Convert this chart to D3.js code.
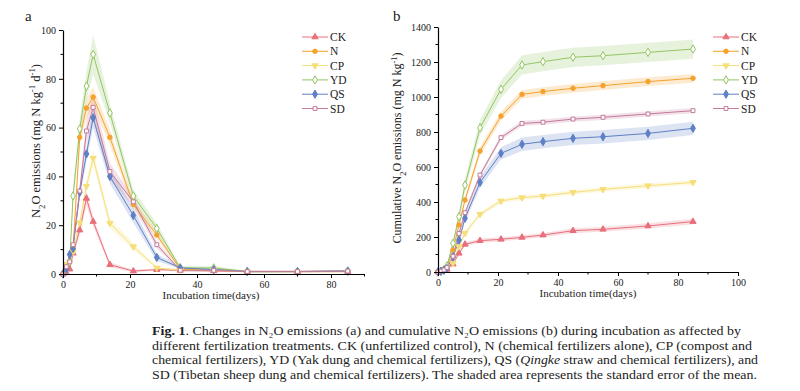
<!DOCTYPE html>
<html><head><meta charset="utf-8">
<script src="https://cdn.jsdelivr.net/npm/d3@7"></script>
<style>
body{margin:0;background:#fff;}
svg{display:block;font-family:"Liberation Serif","Times New Roman",serif;}
</style></head>
<body><svg id="c" width="800" height="391"></svg>
<script>
const days = [0, 1, 2, 3, 5, 7, 9, 14, 21, 28, 35, 45, 55, 70, 85];
const seriesNames = ["CK", "N", "CP", "YD", "QS", "SD"];
const seriesColors = ["#e8707c", "#f4a22c", "#f6df78", "#93c562", "#5f80c4", "#c47a9b"];
const seriesSymbols = ["triangle", "circle", "triangleDown", "diamondOpen", "diamond", "squareOpen"];

// Panel a: daily N2O emissions
const rateCK = [0, 0.5, 2, 8.5, 18, 31, 21.5, 3.8, 1.2, 1.8, 1.5, 1.3, 1.0, 1.0, 1.0];
const rateN  = [0, 3, 5, 10, 56, 68, 72.5, 56, 28.5, 16, 2, 1.5, 1.0, 1.0, 1.0];
const rateCP = [0, 4, 5, 9, 21, 36, 47.5, 20.8, 11.2, 2.5, 1.5, 1.5, 1.0, 1.0, 1.0];
const rateYD = [0, 2, 5, 32, 59.5, 77, 90, 66, 32, 18.7, 2.5, 2.5, 1.0, 1.0, 1.2];
const rateQS = [0, 2, 8, 10.5, 33.5, 49.2, 64, 40, 24, 6.8, 2.5, 1.8, 1.0, 1.0, 1.2];
const rateSD = [0, 3, 5, 12, 34, 58.6, 68.3, 42, 29.6, 12, 1.5, 1.5, 1.0, 1.0, 1.2];
const seRateCK = [0, 0.5, 1, 1.5, 2, 3, 2, 1, 0.5, 0.5, 0.5, 0.5, 0.3, 0.3, 0.3];
const seRateN  = [0, 1, 1, 2, 3, 4, 4, 3, 2, 1.5, 0.5, 0.5, 0.3, 0.3, 0.3];
const seRateCP = [0, 1, 1, 1.5, 2, 2.5, 3, 2, 1.5, 0.5, 0.5, 0.5, 0.3, 0.3, 0.3];
const seRateYD = [0, 1, 1, 3, 4, 6, 8, 4, 2.5, 2, 0.8, 0.8, 0.3, 0.3, 0.3];
const seRateQS = [0, 1, 1, 1.5, 2.5, 3, 4, 3, 3, 1.5, 0.5, 0.5, 0.3, 0.3, 0.3];
const seRateSD = [0, 1, 1, 1.5, 3, 5, 5, 3.5, 2, 1.5, 0.5, 0.5, 0.3, 0.3, 0.3];

// Panel b: cumulative N2O emissions
const cumCK = [0, 3, 8, 15, 45, 107, 158, 179, 187, 198, 211, 236, 244, 263, 288];
const cumN  = [0, 5, 12, 30, 126, 269, 411, 691, 891, 1015, 1031, 1050, 1065, 1088, 1107];
const cumCP = [0, 4, 10, 20, 51, 145, 222, 330, 406, 425, 434, 455, 472, 493, 512];
const cumYD = [0, 5, 15, 35, 164, 316, 497, 824, 1044, 1183, 1202, 1227, 1236, 1255, 1274];
const cumQS = [0, 4, 10, 20, 86, 183, 307, 512, 678, 730, 745, 764, 773, 792, 821];
const cumSD = [0, 5, 12, 25, 90, 220, 339, 554, 768, 849, 856, 874, 884, 903, 922];
const seCumCK = [0, 1, 2, 3, 5, 8, 10, 12, 12, 12, 12, 14, 14, 15, 16];
const seCumN  = [0, 2, 3, 5, 10, 15, 20, 25, 25, 25, 25, 25, 25, 25, 25];
const seCumCP = [0, 2, 3, 4, 8, 10, 12, 14, 14, 14, 14, 14, 14, 14, 14];
const seCumYD = [0, 3, 5, 8, 15, 25, 35, 45, 50, 55, 55, 55, 55, 55, 55];
const seCumQS = [0, 2, 3, 4, 8, 15, 20, 30, 35, 38, 38, 38, 38, 38, 38];
const seCumSD = [0, 2, 3, 4, 8, 12, 15, 15, 15, 15, 15, 15, 15, 15, 15];

const rateTicksY = [0, 20, 40, 60, 80, 100];
const rateTicksX = [0, 20, 40, 60, 80];
const cumTicksY = [0, 200, 400, 600, 800, 1000, 1200, 1400];
const cumTicksX = [0, 20, 40, 60, 80, 100];

const captionLines = [
  "Changes in N₂O emissions (a) and cumulative N₂O emissions (b) during incubation as affected by",
  "different fertilization treatments. CK (unfertilized control), N (chemical fertilizers alone), CP (compost and",
  "chemical fertilizers), YD (Yak dung and chemical fertilizers), QS (Qingke straw and chemical fertilizers), and",
  "SD (Tibetan sheep dung and chemical fertilizers). The shaded area represents the standard error of the mean."
];

const rateData = [rateCK, rateN, rateCP, rateYD, rateQS, rateSD];
const rateSE = [seRateCK, seRateN, seRateCP, seRateYD, seRateQS, seRateSD];
const cumData = [cumCK, cumN, cumCP, cumYD, cumQS, cumSD];
const cumSE = [seCumCK, seCumN, seCumCP, seCumYD, seCumQS, seCumSD];

const svg = d3.select("#c");

function drawMarker(g, type, color, x, y) {
  let sym, fill = color, stroke = color, size = 17;
  if (type === "triangle") sym = d3.symbolTriangle;
  else if (type === "circle") { sym = d3.symbolCircle; size = 16; }
  else if (type === "triangleDown") sym = d3.symbolTriangle;
  else if (type === "diamondOpen") { sym = d3.symbolDiamond; fill = "#fff"; size = 20; }
  else if (type === "diamond") { sym = d3.symbolDiamond; size = 20; }
  else if (type === "squareOpen") { sym = d3.symbolSquare; fill = "#fff"; size = 15; }
  const rot = type === "triangleDown" ? " rotate(180)" : "";
  g.append("path")
    .attr("d", d3.symbol().type(sym).size(size)())
    .attr("transform", `translate(${x},${y})${rot}`)
    .attr("fill", fill).attr("stroke", stroke).attr("stroke-width", 1);
}

function panel(opts) {
  const x = d3.scaleLinear().domain(opts.xDomain).range(opts.xRange);
  const y = d3.scaleLinear().domain(opts.yDomain).range(opts.yRange);
  const g = svg.append("g");

  opts.data.forEach((vals, i) => {
    const area = d3.area()
      .x((d, j) => x(days[j]))
      .y0((d, j) => y(Math.max(0, vals[j] - opts.se[i][j])))
      .y1((d, j) => y(vals[j] + opts.se[i][j]));
    g.append("path").attr("d", area(vals))
      .attr("fill", seriesColors[i]).attr("fill-opacity", 0.22);
  });
  opts.data.forEach((vals, i) => {
    const line = d3.line().x((d, j) => x(days[j])).y(d => y(d));
    g.append("path").attr("d", line(vals))
      .attr("fill", "none").attr("stroke", seriesColors[i]).attr("stroke-width", 1);
  });
  opts.data.forEach((vals, i) => {
    vals.forEach((v, j) => drawMarker(g, seriesSymbols[i], seriesColors[i], x(days[j]), y(v)));
  });

  const xAxis = d3.axisBottom(x).tickValues(opts.xTicks).tickSize(4).tickSizeOuter(0).tickFormat(d3.format("d"));
  const yAxis = d3.axisLeft(y).tickValues(opts.yTicks).tickSize(4).tickSizeOuter(0).tickFormat(d3.format("d"));
  const gx = g.append("g").attr("transform", `translate(0,${opts.yRange[0]})`).call(xAxis);
  const gy = g.append("g").attr("transform", `translate(${opts.xRange[0]},0)`).call(yAxis);
  const xMinor = d3.range(opts.xDomain[0] + opts.xMinorStep, opts.xDomain[1] + 0.001, opts.xMinorStep)
    .filter(v => !opts.xTicks.includes(v));
  const yMinor = d3.range(opts.yDomain[0] + opts.yMinorStep, opts.yDomain[1], opts.yMinorStep)
    .filter(v => !opts.yTicks.includes(v));
  gx.selectAll(".minor").data(xMinor).enter().append("line")
    .attr("x1", d => x(d)).attr("x2", d => x(d)).attr("y1", 0).attr("y2", 2.5).attr("stroke", "#000");
  gy.selectAll(".minor").data(yMinor).enter().append("line")
    .attr("y1", d => y(d)).attr("y2", d => y(d)).attr("x1", 0).attr("x2", -2.5).attr("stroke", "#000");
  [gx, gy].forEach(a => {
    a.selectAll("path.domain").attr("stroke", "#000").attr("stroke-width", 1.2);
    a.selectAll(".tick line").attr("stroke", "#000");
    a.selectAll("text").attr("font-family", "Liberation Serif, serif").attr("font-size", 10).attr("fill", "#222");
  });

  seriesNames.forEach((name, i) => {
    const ly = opts.legendY + i * 14.3;
    g.append("line").attr("x1", opts.legendX).attr("x2", opts.legendX + 26)
      .attr("y1", ly).attr("y2", ly).attr("stroke", seriesColors[i]).attr("stroke-width", 1);
    drawMarker(g, seriesSymbols[i], seriesColors[i], opts.legendX + 13, ly);
    g.append("text").attr("x", opts.legendX + 28).attr("y", ly + 4)
      .attr("font-size", 11.5).attr("fill", "#222").text(name);
  });

  g.append("text").attr("x", opts.labelX).attr("y", opts.labelY)
    .attr("font-size", 15).attr("fill", "#222").text(opts.label);

  g.append("text").attr("x", opts.xTitleX).attr("y", opts.yRange[0] + 25)
    .attr("text-anchor", "middle").attr("font-size", 11).attr("fill", "#222").text("Incubation time(days)");

  const yt = g.append("text").attr("transform", `translate(${opts.yTitleX},${opts.yTitleY}) rotate(-90)`)
    .attr("text-anchor", "middle").attr("font-size", opts.yTitleSize).attr("fill", "#222");
  opts.yTitleParts.forEach(p => {
    const t = yt.append("tspan").text(p[0]);
    if (p[1] === "sub") t.attr("baseline-shift", "sub").attr("font-size", opts.yTitleSize * 0.7);
    if (p[1] === "sup") t.attr("baseline-shift", "super").attr("font-size", opts.yTitleSize * 0.7);
  });
}

panel({
  data: rateData, se: rateSE,
  xDomain: [0, 90], xRange: [63, 364.5], yDomain: [0, 100], yRange: [274, 30],
  xTicks: rateTicksX, yTicks: rateTicksY, xMinorStep: 10, yMinorStep: 10,
  legendX: 302, legendY: 37, label: "a", labelX: 25, labelY: 21,
  xTitleX: 211, yTitleX: 40, yTitleY: 141, yTitleSize: 12.5,
  yTitleParts: [["N"], ["2", "sub"], ["O emissions (mg N kg"], ["-1", "sup"], [" d"], ["-1", "sup"], [")"]]
});
panel({
  data: cumData, se: cumSE,
  xDomain: [0, 100], xRange: [438, 738], yDomain: [0, 1400], yRange: [272, 27],
  xTicks: cumTicksX, yTicks: cumTicksY, xMinorStep: 10, yMinorStep: 100,
  legendX: 713, legendY: 37, label: "b", labelX: 393, labelY: 21,
  xTitleX: 588, yTitleX: 401, yTitleY: 148, yTitleSize: 12,
  yTitleParts: [["Cumulative N"], ["2", "sub"], ["O emissions (mg N kg"], ["-1", "sup"], [")"]]
});

const capX = 152, capBase = 335, capStep = 14.6;
const capEnds = [741, 752, 758, 757];
captionLines.forEach((line, i) => {
  const t = svg.append("text").attr("x", capX).attr("y", capBase + i * capStep)
    .attr("font-size", 13).attr("fill", "#222")
    .attr("textLength", capEnds[i] - capX).attr("lengthAdjust", "spacingAndGlyphs");
  if (i === 0) t.append("tspan").attr("font-weight", "bold").text("Fig. 1");
  if (i === 0) t.append("tspan").text(".  ");
  const parts = line.split(/(Qingke)/);
  parts.forEach(p => {
    if (p === "Qingke") t.append("tspan").attr("font-style", "italic").text("Qingke");
    else if (p.length) t.append("tspan").text(p);
  });
});
</script>
</body></html>
